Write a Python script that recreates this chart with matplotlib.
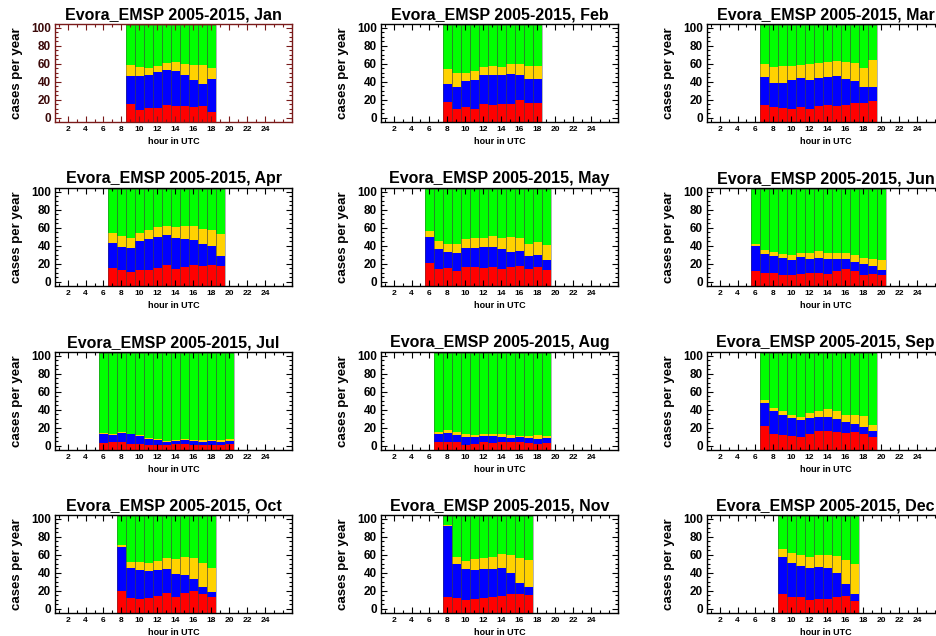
import numpy as np
import matplotlib
matplotlib.use('Agg')
import matplotlib.pyplot as plt
from matplotlib.ticker import MultipleLocator

plt.rcParams['font.family'] = ['Liberation Sans', 'DejaVu Sans']

MONTHS = ['Jan', 'Feb', 'Mar', 'Apr', 'May', 'Jun',
          'Jul', 'Aug', 'Sep', 'Oct', 'Nov', 'Dec']
FIRST_HOUR = [9, 8, 7, 7, 6, 6, 6, 7, 7, 8, 8, 9]

# cumulative level at the top of each segment (red, then blue, then yellow); green fills the rest
RED_TOP = [
    [15.0, 8.8, 10.6, 10.6, 13.9, 13.1, 13.1, 12.4, 13.5, 6.9],
    [17.6, 9.2, 11.4, 9.2, 15.0, 13.9, 15.0, 15.8, 20.1, 16.5, 16.5],
    [14.3, 11.4, 10.7, 9.9, 12.1, 9.9, 12.9, 14.7, 12.5, 14.7, 16.2, 16.2, 18.4],
    [15.4, 12.5, 10.3, 13.6, 13.6, 15.8, 18.8, 14.7, 16.5, 19.1, 18.0, 18.8, 17.3],
    [21.3, 14.0, 15.4, 11.8, 16.9, 16.9, 15.8, 16.9, 14.0, 16.2, 17.6, 14.7, 16.9, 13.6],
    [12.1, 9.9, 9.6, 7.7, 7.4, 8.1, 9.9, 9.9, 8.8, 11.8, 14.0, 11.8, 7.7, 8.5, 7.7],
    [2.9, 4.0, 4.0, 2.2, 2.2, 1.1, 1.1, 1.1, 1.5, 1.5, 0.7, 0.7, 1.1, 0.4, 2.2],
    [4.0, 3.7, 4.0, 1.1, 1.8, 3.7, 3.3, 4.0, 4.0, 3.7, 3.3, 2.2, 2.9],
    [21.5, 12.8, 12.0, 10.9, 9.9, 13.1, 16.1, 16.8, 15.7, 14.6, 15.7, 13.1, 10.2],
    [20.2, 11.8, 11.0, 12.1, 14.0, 17.3, 12.9, 18.0, 19.5, 16.5, 13.2],
    [12.9, 12.1, 9.2, 10.3, 11.8, 12.5, 14.7, 16.2, 16.2, 15.1],
    [16.2, 13.2, 12.5, 9.6, 11.0, 10.7, 12.5, 14.7, 8.8],
]
BLUE_TOP = [
    [46.4, 46.7, 47.8, 50.4, 53.3, 51.8, 47.8, 42.3, 37.6, 43.4],
    [37.4, 34.1, 41.0, 41.4, 46.9, 46.9, 46.9, 48.7, 46.9, 43.2, 43.2],
    [45.6, 38.6, 38.6, 41.9, 43.8, 42.3, 44.5, 45.6, 46.0, 42.6, 41.2, 33.8, 33.8],
    [43.0, 39.0, 37.1, 44.9, 47.8, 50.0, 51.8, 48.2, 47.8, 46.0, 41.9, 39.3, 28.3],
    [50.0, 36.8, 33.1, 32.0, 37.5, 37.5, 38.2, 39.0, 36.8, 33.1, 34.2, 28.3, 29.8, 24.6],
    [40.1, 31.3, 28.3, 26.1, 24.3, 27.6, 25.4, 26.8, 25.4, 25.4, 25.4, 22.4, 19.5, 17.3, 13.6],
    [13.2, 11.4, 14.7, 12.9, 10.7, 7.0, 6.6, 4.0, 5.1, 5.9, 4.8, 4.0, 4.8, 4.4, 5.1],
    [13.2, 14.3, 12.1, 9.9, 9.6, 10.7, 10.3, 9.6, 8.5, 9.6, 8.8, 7.7, 8.5],
    [47.4, 38.3, 33.9, 31.0, 28.8, 30.3, 32.1, 32.1, 29.2, 26.3, 24.5, 20.4, 16.1],
    [68.0, 44.9, 43.0, 41.9, 43.0, 44.1, 38.6, 37.9, 33.1, 24.3, 19.1],
    [91.9, 50.0, 43.8, 43.0, 44.5, 44.5, 45.6, 39.7, 28.3, 24.3],
    [57.4, 50.7, 47.1, 45.6, 46.3, 45.6, 40.1, 27.9, 16.5],
]
YELLOW_TOP = [
    [58.4, 56.2, 55.1, 57.3, 60.6, 61.7, 59.5, 58.4, 58.8, 55.1],
    [53.8, 49.1, 49.8, 52.0, 56.0, 57.1, 56.4, 60.1, 59.7, 57.5, 57.9],
    [59.6, 56.6, 57.0, 57.0, 58.5, 59.6, 60.7, 62.1, 62.9, 61.8, 60.7, 55.5, 64.0],
    [53.7, 50.7, 48.9, 54.0, 57.0, 60.3, 62.1, 60.7, 62.1, 62.1, 58.8, 57.4, 53.3],
    [56.3, 45.2, 42.3, 42.3, 47.4, 48.5, 48.5, 50.4, 48.9, 49.3, 48.2, 42.3, 43.8, 41.2],
    [41.9, 34.9, 33.1, 31.3, 29.4, 32.0, 32.0, 34.2, 32.0, 32.0, 32.0, 30.1, 26.1, 25.0, 24.6],
    [14.0, 12.5, 15.8, 13.6, 11.4, 8.5, 7.7, 5.5, 6.6, 7.4, 6.3, 5.9, 6.6, 6.6, 7.4],
    [15.1, 17.3, 15.4, 12.5, 11.8, 12.9, 12.9, 12.9, 12.1, 10.7, 10.7, 11.8, 10.7],
    [50.7, 42.0, 39.1, 34.3, 32.1, 35.8, 39.1, 40.9, 38.3, 33.9, 33.9, 32.8, 23.4],
    [70.6, 52.2, 52.2, 50.7, 52.9, 56.3, 55.5, 57.7, 56.3, 50.7, 45.2],
    [93.4, 57.4, 52.6, 55.1, 56.3, 57.7, 60.3, 59.2, 55.9, 54.4],
    [66.2, 62.1, 59.2, 57.7, 59.9, 59.6, 58.5, 54.0, 49.3],
]

COLORS = ['#ff0000', '#0000ff', '#ffd200', '#00ff00']
YLO, YTOP, YHI = -4.7, 103.0, 104.0


def draw_panel(ax, month, first, red, blue, yellow, frame='black', ylab='black'):
    hours = np.arange(first, first + len(red))
    levels = [np.full(len(red), YLO), np.array(red), np.array(blue),
              np.array(yellow), np.full(len(red), YTOP)]
    for k in range(4):
        ax.bar(hours, levels[k + 1] - levels[k], bottom=levels[k], width=1.0,
               color=COLORS[k], linewidth=0)
    ax.bar(hours, YTOP - YLO, bottom=YLO, width=1.0, fill=False,
           edgecolor=(0.25, 0.25, 0.25, 0.55), linewidth=0.5)

    ax.set_xlim(0.6, 27)
    ax.set_ylim(YLO, YHI)
    ax.set_xticks(range(2, 25, 2))
    ax.xaxis.set_minor_locator(MultipleLocator(1))
    ax.set_yticks(range(0, 101, 20))
    ax.yaxis.set_minor_locator(MultipleLocator(5))
    ax.tick_params(which='both', direction='in', top=True, right=True,
                   color=frame, width=0.8)
    ax.tick_params(which='major', length=4)
    ax.tick_params(which='minor', length=2)
    ax.tick_params(axis='x', labelsize=6, pad=3)
    ax.tick_params(axis='y', labelsize=8.5, pad=3, labelcolor=ylab)
    for lab in ax.get_xticklabels() + ax.get_yticklabels():
        lab.set_fontweight('bold')
    for sp in ax.spines.values():
        sp.set_color(frame)
        sp.set_linewidth(1.0)

    ax.set_title(f'Evora_EMSP 2005-2015, {month}', fontsize=11.5,
                 fontweight='bold', pad=3.5)
    ax.set_xlabel('hour in UTC', fontsize=6.5, fontweight='bold', labelpad=3)
    ax.set_ylabel('cases per year', fontsize=9.5, fontweight='bold', labelpad=5.5)


def main():
    W, H = 937, 636
    fig = plt.figure(figsize=(W / 100, H / 100), dpi=100)
    lefts = [55, 381, 707]
    tops = [24, 188, 352, 515]
    aw, ah = 237, 98

    for i, m in enumerate(MONTHS):
        r, c = divmod(i, 3)
        ax = fig.add_axes([lefts[c] / W, 1 - (tops[r] + ah) / H, aw / W, ah / H])
        if m == 'Jan':
            draw_panel(ax, m, FIRST_HOUR[i], RED_TOP[i], BLUE_TOP[i], YELLOW_TOP[i],
                       frame='#7a1a1a', ylab='#3c0a0a')
        else:
            draw_panel(ax, m, FIRST_HOUR[i], RED_TOP[i], BLUE_TOP[i], YELLOW_TOP[i])

    fig.savefig('out.png', dpi=100)


if __name__ == '__main__':
    main()
